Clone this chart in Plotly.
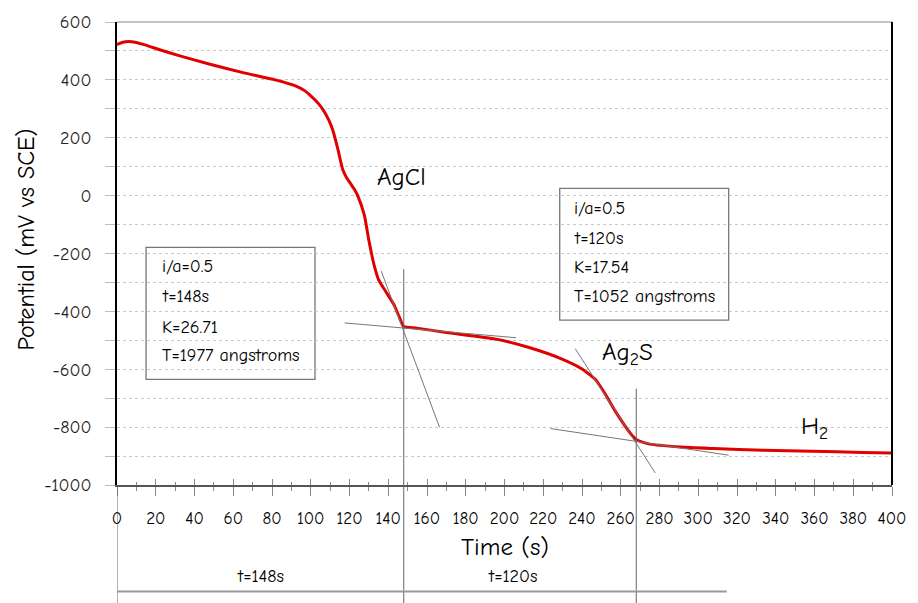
import plotly.graph_objects as go

# Chronopotentiometric reduction curve (potential vs time)
time_s = [0, 3, 7.5, 14, 22, 32, 47.5, 64.5, 81.6, 91.8, 97, 100.3, 104, 107, 109.5, 111.4,
          113.9, 116.5, 118.5, 120.5, 122.5, 124.1, 127.6, 130.1, 132.7, 135, 137.8, 142.9,
          145.4, 148, 154.8, 170.1, 195.7, 212.7, 229.7, 240, 246.7, 251.9, 257, 262, 265,
          268, 274, 291, 308, 333.6, 359, 384.7, 400]
potential_mv = [522, 530, 532, 522, 504, 484, 455, 426, 400, 380, 362, 343, 318, 290, 258, 226,
                163, 90, 62, 42, 22, 2, -66, -158, -240, -290, -322, -376,
                -415, -452, -458, -473, -496, -525, -565, -599, -634, -685, -743, -794, -822,
                -843, -857, -869, -874, -880, -883, -888, -889]

# Tangent construction lines (start/end in data units)
tangents = [
    ((136.4, -261), (166.5, -801)),
    ((117.5, -440), (205.9, -491)),
    ((236.5, -529), (277.8, -958)),
    ((223.8, -805), (315.7, -897)),
]

# Transition times and the spans they bound
transition_times = [0, 148, 268]
transition_tops = [-1000, -254, -667]
span_labels = ["t=148s", "t=120s"]
span_label_x = [74, 204]
span_line_x = [-10.2, 314.7]

# Phase labels
phase_labels = ["AgCl", "Ag<sub>2</sub>S", "H<sub>2</sub>"]
phase_x = [147, 263.6, 360]
phase_y = [65, -543, -800]

# Parameter boxes: (x0, x1, y0, y1), text anchor, lines
box1_rect = (15, 102.2, -635, -179)
box1_lines = ["i/a=0.5", "t=148s", "K=26.71", "T=1977 angstroms"]
box1_text_x = 22
box1_text_y = [-244, -347, -457, -553]

box2_rect = (228.5, 315.7, -430, 25)
box2_lines = ["i/a=0.5", "t=120s", "K=17.54", "T=1052 angstroms"]
box2_text_x = 234.8
box2_text_y = [-45, -147, -250, -347]

X_MIN, X_MAX = 0, 400
Y_MIN, Y_MAX = -1000, 600
x_ticks = list(range(0, 401, 20))
y_ticks = list(range(-1000, 601, 200))

FONT = "Comic Sans MS, Comic Neue, Open Sans, sans-serif"


def ypaper(v):
    return (v - Y_MIN) / (Y_MAX - Y_MIN)


fig = go.Figure()

fig.add_trace(go.Scatter(
    x=time_s, y=potential_mv, mode="lines",
    line=dict(color="#e00000", width=3, shape="spline", smoothing=0.5),
    hoverinfo="skip", showlegend=False,
))

# dummy trace to activate the overlaid axis used for inner tick marks
fig.add_trace(go.Scatter(x=[X_MIN], y=[Y_MIN], xaxis="x2", mode="markers",
                         marker=dict(opacity=0), showlegend=False, hoverinfo="skip"))

shapes = []
for (x0, y0), (x1, y1) in tangents:
    shapes.append(dict(type="line", xref="x", yref="y", x0=x0, y0=y0, x1=x1, y1=y1,
                       line=dict(color="#777777", width=1)))

for t, top in zip(transition_times, transition_tops):
    shapes.append(dict(type="line", xref="x", yref="paper", x0=t, x1=t,
                       y0=ypaper(top), y1=-0.255, line=dict(color="#666666", width=1)))

shapes.append(dict(type="line", xref="x", yref="paper", x0=span_line_x[0], x1=span_line_x[1],
                   y0=-0.23, y1=-0.23, line=dict(color="#999999", width=2)))

for (bx0, bx1, by0, by1) in [box1_rect, box2_rect]:
    shapes.append(dict(type="rect", xref="x", yref="y", x0=bx0, x1=bx1, y0=by0, y1=by1,
                       line=dict(color="#777777", width=1.3), fillcolor="white", layer="below"))

# plot frame: thin grey top edge, heavy black right edge
shapes.append(dict(type="line", xref="paper", yref="paper", x0=0, x1=1, y0=1, y1=1,
                   line=dict(color="#888888", width=1)))
shapes.append(dict(type="line", xref="paper", yref="paper", x0=1, x1=1, y0=0, y1=1,
                   line=dict(color="black", width=2)))

annotations = []
for txt, x, y in zip(phase_labels, phase_x, phase_y):
    annotations.append(dict(text=txt, x=x, y=y, xref="x", yref="y", showarrow=False,
                            xanchor="center", yanchor="middle",
                            font=dict(family=FONT, size=25, color="black")))

for lines, tx, tys in [(box1_lines, box1_text_x, box1_text_y), (box2_lines, box2_text_x, box2_text_y)]:
    for txt, ty in zip(lines, tys):
        annotations.append(dict(text=txt, x=tx, y=ty, xref="x", yref="y", showarrow=False,
                                xanchor="left", yanchor="middle",
                                font=dict(family=FONT, size=18, color="black")))

for txt, x in zip(span_labels, span_label_x):
    annotations.append(dict(text=txt, x=x, y=-0.198, xref="x", yref="paper", showarrow=False,
                            xanchor="center", yanchor="middle",
                            font=dict(family=FONT, size=18, color="black")))

annotations.append(dict(text="Time (s)", x=0.5, y=-0.133, xref="paper", yref="paper",
                        xanchor="center", yanchor="middle",
                        showarrow=False, font=dict(family=FONT, size=25, color="black")))
annotations.append(dict(text="Potential (mV vs SCE)", x=0, y=0.5, xref="paper", yref="paper",
                        xanchor="center", yanchor="middle",
                        xshift=-92, yshift=14, textangle=-90, showarrow=False,
                        font=dict(family=FONT, size=24, color="black")))

fig.update_layout(
    width=918, height=603,
    margin=dict(l=117, r=17, t=19, b=118),
    paper_bgcolor="white", plot_bgcolor="white",
    showlegend=False,
    shapes=shapes,
    annotations=annotations,
    xaxis=dict(
        range=[X_MIN, X_MAX], tickvals=x_ticks, ticktext=[str(v) for v in x_ticks],
        showgrid=False, zeroline=False,
        showline=True, linecolor="#555555", linewidth=2,
        ticks="outside", ticklen=9, tickcolor="#888888", tickwidth=1,
        ticklabelstandoff=8,
        minor=dict(dtick=10, ticks="outside", ticklen=4, tickcolor="#888888", showgrid=False),
        tickfont=dict(family=FONT, size=17, color="black"),
    ),
    xaxis2=dict(
        range=[X_MIN, X_MAX], overlaying="x", anchor="y", side="bottom",
        tickvals=x_ticks, showticklabels=False, showgrid=False, zeroline=False,
        showline=False, ticks="inside", ticklen=6, tickcolor="#888888", tickwidth=1,
        minor=dict(dtick=10, ticks="inside", ticklen=3, tickcolor="#888888", showgrid=False),
    ),
    yaxis=dict(
        range=[Y_MIN, Y_MAX], tickvals=y_ticks, ticktext=[str(v) for v in y_ticks],
        showgrid=True, gridcolor="#c8c8c8", griddash="dot", gridwidth=1,
        zeroline=False, showline=True, linecolor="black", linewidth=2,
        ticks="outside", ticklen=10, tickcolor="#bbbbbb", tickwidth=1,
        ticklabelstandoff=10,
        minor=dict(dtick=100, ticks="outside", ticklen=10, tickcolor="#bbbbbb",
                   showgrid=True, gridcolor="#c8c8c8", griddash="dot", gridwidth=1),
        tickfont=dict(family=FONT, size=18, color="#222222"),
    ),
)

fig.write_html("out.html")
